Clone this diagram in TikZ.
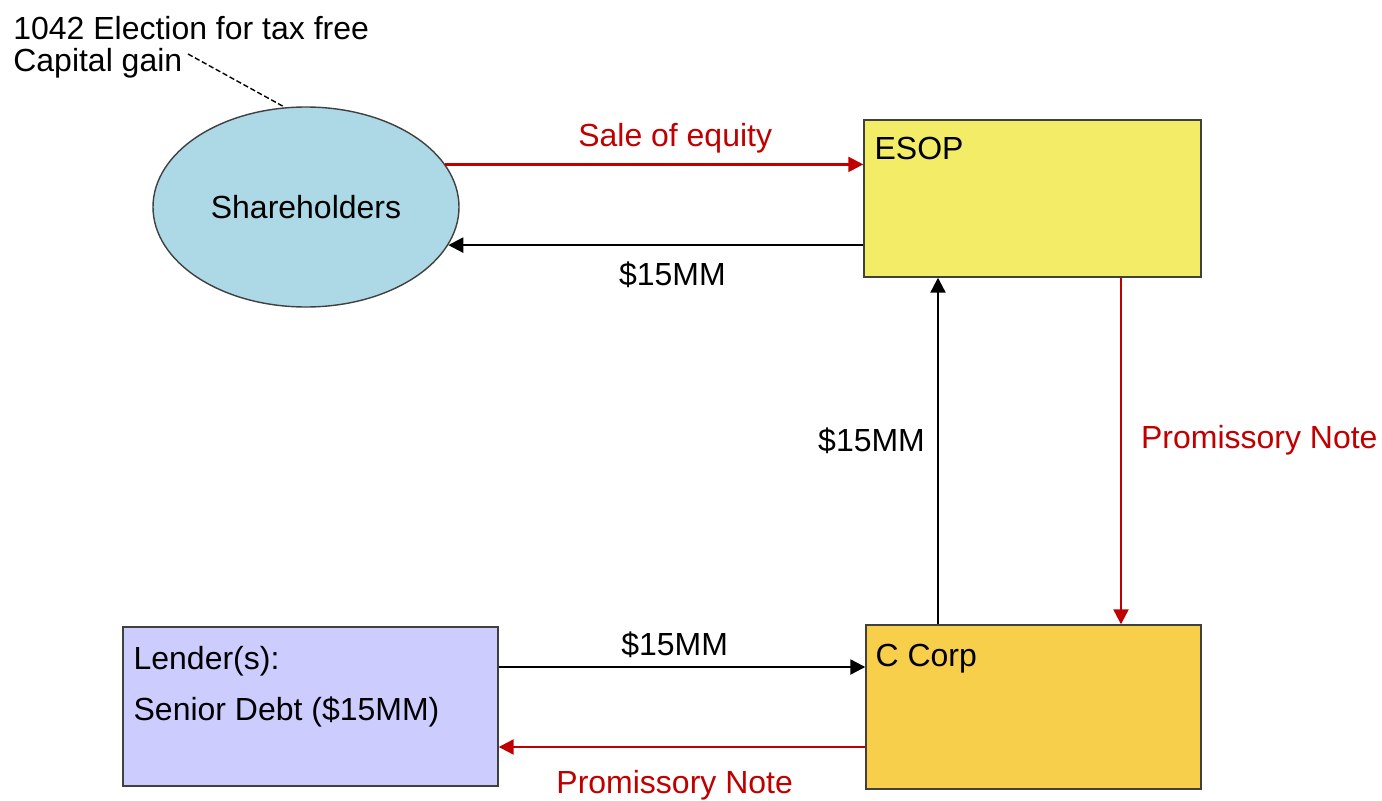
\documentclass[tikz,border=0pt]{standalone}
\usepackage{fontspec}
\setmainfont{Liberation Sans}
\usetikzlibrary{shapes.geometric,arrows.meta}
\definecolor{noteRed}{HTML}{C00000}
\definecolor{shBlue}{HTML}{ADD8E6}
\definecolor{esopYellow}{HTML}{F2EC66}
\definecolor{corpGold}{HTML}{F8CF4A}
\definecolor{lendBlue}{HTML}{CCCCFF}
\begin{document}
\begin{tikzpicture}[
	every node/.style={font=\fontsize{18.2}{18.2}\selectfont},
	box/.style={draw=black!75,line width=0.8pt,inner sep=0pt},
	boxtext/.style={anchor=north west,inner sep=0pt,align=left},
	lbl/.style={inner sep=0pt},
	flow/.style={line width=1.3pt,-{Triangle[length=0.3cm,width=0.3cm]}}]
	\useasboundingbox (0,0) rectangle (27.64,-16.02);
	% parties
	\node[box,ellipse,fill=shBlue,minimum width=6.12cm,minimum height=4cm] (sh) at (6.12,-4.14) {Shareholders};
	\node[box,fill=esopYellow,minimum width=6.74cm,minimum height=3.14cm] (esop) at (20.65,-3.97) {};
	\node[box,fill=corpGold,minimum width=6.7cm,minimum height=3.28cm] (cc) at (20.67,-14.14) {};
	\node[box,fill=lendBlue,minimum width=7.5cm,minimum height=3.18cm] (lend) at (6.21,-14.13) {};
	\node[boxtext] (esoptxt) at ([xshift=0.22cm,yshift=-0.36cm]esop.north west) {ESOP};
	\node[boxtext] (cctxt) at ([xshift=0.2cm,yshift=-0.4cm]cc.north west) {C Corp};
	\node[boxtext] (lendtxt) at ([xshift=0.22cm,yshift=-0.4cm]lend.north west) {Lender(s):\\[10.8pt]Senior Debt (\$15MM)};
	% note
	\node[lbl,anchor=north west,align=left] (note) at (0.26,-0.32) {1042 Election for tax free\\Capital gain};
	\coordinate (gain) at (3.76,-1.08);
	\draw[line width=0.8pt,dash pattern=on 3pt off 1.5pt] (gain) -- (sh.102);
	% flows
	\draw[flow,noteRed] (sh.17.8) -- (sh.17.8 -| esop.west) node[lbl,pos=0.55,above=0.2cm] {Sale of equity};
	\draw[flow] (sh.-15.5 -| esop.west) -- (sh.-15.5) node[lbl,pos=0.46,below=0.32cm] {\$15MM};
	\draw[flow] (18.76,0 |- cc.north) -- (18.76,0 |- esop.south) node[lbl,pos=0.53,left=0.24cm] {\$15MM};
	\draw[flow,noteRed] (22.42,0 |- esop.south) -- (22.42,0 |- cc.north) node[lbl,pos=0.47,right=0.38cm] {Promissory Note};
	\draw[flow] (lend.east |- 0,-13.34) -- (cc.west |- 0,-13.34) node[lbl,pos=0.48,above=0.16cm] {\$15MM};
	\draw[flow,noteRed] (cc.west |- 0,-14.94) -- (lend.east |- 0,-14.94) node[lbl,pos=0.52,below=0.44cm] {Promissory Note};
\end{tikzpicture}
\end{document}
